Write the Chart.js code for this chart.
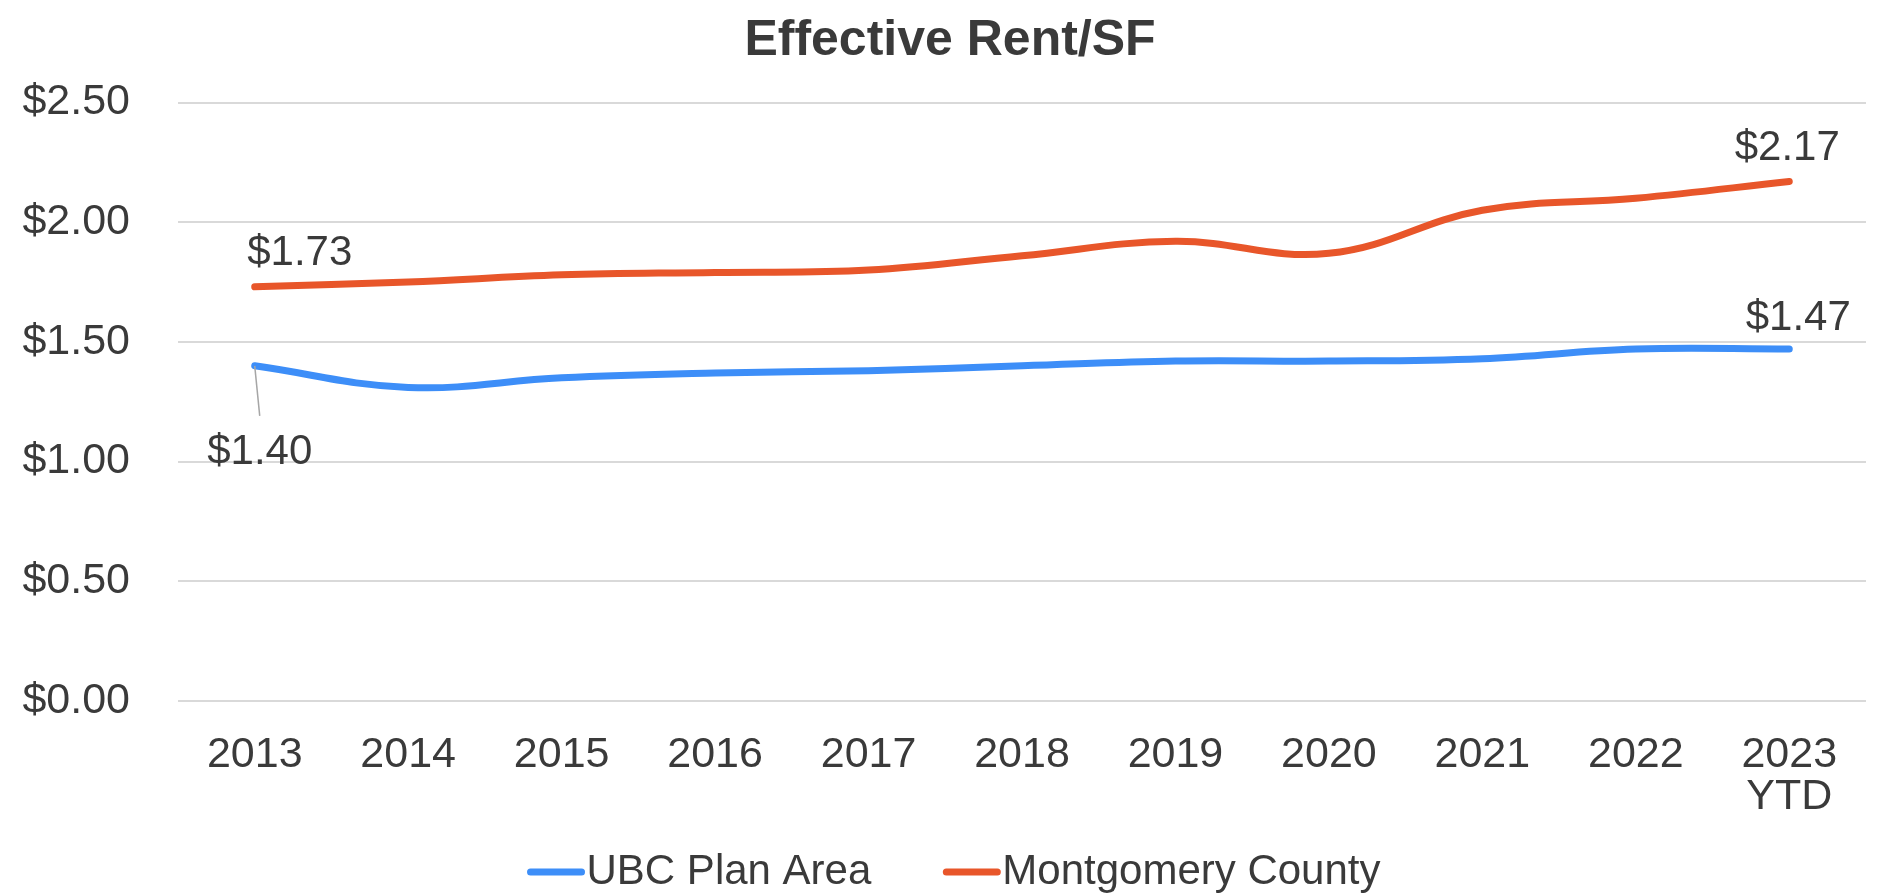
<!DOCTYPE html>
<html>
<head>
<meta charset="utf-8">
<script src="https://cdn.jsdelivr.net/npm/chart.js@4/dist/chart.umd.min.js"></script>
<style>
  html, body { margin: 0; padding: 0; background: #ffffff; }
  #wrap { width: 1890px; height: 896px; }
</style>
</head>
<body>
<div id="wrap"><canvas id="rentChart" width="1890" height="896"></canvas></div>
<script>
// chart data
const chartTitle = 'Effective Rent/SF';
const years = ['2013', '2014', '2015', '2016', '2017', '2018', '2019', '2020', '2021', '2022', ['2023', 'YTD']];
const ubcPlanArea = [1.40, 1.31, 1.35, 1.37, 1.38, 1.40, 1.42, 1.42, 1.43, 1.47, 1.47];
const montgomeryCounty = [1.73, 1.75, 1.78, 1.79, 1.80, 1.86, 1.92, 1.87, 2.05, 2.10, 2.17];
const yTicks = [0, 0.5, 1.0, 1.5, 2.0, 2.5];

const textColor = '#3a3a3a';
const fontFamily = '"Liberation Sans", Arial, sans-serif';

// which points get a value label, and where it sits relative to the point
const labelSpots = [
    { dataset: 0, index: 0, dx: 5, dy: 87, leader: true },
    { dataset: 0, index: 10, dx: 9, dy: -31 },
    { dataset: 1, index: 0, dx: 45, dy: -33 },
    { dataset: 1, index: 10, dx: -2, dy: -33 },
];

const valueLabels = {
    id: 'valueLabels',
    afterDatasetsDraw(chart) {
        const ctx = chart.ctx;
        ctx.save();
        ctx.font = '42px ' + fontFamily;
        ctx.textAlign = 'center';
        ctx.textBaseline = 'middle';
        labelSpots.forEach((s) => {
            const pt = chart.getDatasetMeta(s.dataset).data[s.index];
            const v = chart.data.datasets[s.dataset].data[s.index];
            const tx = pt.x + s.dx;
            const ty = pt.y + s.dy;
            if (s.leader) {
                ctx.strokeStyle = '#a6a6a6';
                ctx.lineWidth = 1.5;
                ctx.beginPath();
                ctx.moveTo(pt.x, pt.y);
                ctx.lineTo(tx, ty - 37);
                ctx.stroke();
            }
            ctx.fillStyle = textColor;
            ctx.fillText('$' + v.toFixed(2), tx, ty);
        });
        ctx.restore();
    },
};

// title and legend drawn by hand (title sits a bit right of the canvas centre,
// legend text sits right against the line sample)
const titleAndLegend = {
    id: 'titleAndLegend',
    afterDraw(chart) {
        const ctx = chart.ctx;
        ctx.save();
        ctx.fillStyle = textColor;
        ctx.textBaseline = 'middle';
        ctx.textAlign = 'center';
        ctx.font = 'bold 50px ' + fontFamily;
        ctx.fillText(chartTitle, 950, 41);

        ctx.textAlign = 'left';
        ctx.font = '42px ' + fontFamily;
        const sample = 57, gap = 72, y = 872;
        const items = chart.data.datasets.map((d) => ({ d, w: ctx.measureText(d.label).width }));
        const total = items.reduce((a, it) => a + sample + 2 + it.w, 0) + gap * (items.length - 1);
        let x = 954 - total / 2;
        items.forEach((it) => {
            ctx.strokeStyle = it.d.borderColor;
            ctx.lineWidth = 7;
            ctx.lineCap = 'round';
            ctx.beginPath();
            ctx.moveTo(x + 3, y);
            ctx.lineTo(x + sample - 3, y);
            ctx.stroke();
            ctx.fillStyle = textColor;
            ctx.fillText(it.d.label, x + sample + 2, y);
            x += sample + 2 + it.w + gap;
        });
        ctx.restore();
    },
};

const ctx = document.getElementById('rentChart').getContext('2d');
const chart = new Chart(ctx, {
    type: 'line',
    data: {
        labels: years,
        datasets: [
            {
                label: 'UBC Plan Area',
                data: ubcPlanArea,
                borderColor: '#3d8ef8',
                backgroundColor: '#3d8ef8',
                borderWidth: 7,
                borderCapStyle: 'round',
                tension: 0.4,
                fill: false,
                pointRadius: 0,
            },
            {
                label: 'Montgomery County',
                data: montgomeryCounty,
                borderColor: '#e8562a',
                backgroundColor: '#e8562a',
                borderWidth: 7,
                borderCapStyle: 'round',
                tension: 0.4,
                fill: false,
                pointRadius: 0,
            },
        ],
    },
    options: {
        responsive: false,
        animation: false,
        layout: { padding: { left: 4, right: 24, top: 102.5, bottom: 52 } },
        plugins: {
            legend: { display: false },
            tooltip: { enabled: false },
            title: { display: false },
        },
        scales: {
            x: {
                offset: true,
                grid: { display: false, drawTicks: false },
                border: { display: false },
                ticks: {
                    color: textColor,
                    padding: 33,
                    maxRotation: 0,
                    autoSkip: false,
                    font: { family: fontFamily, size: 43, lineHeight: 0.98 },
                },
                afterFit(scale) { scale.height = 143; },
            },
            y: {
                min: 0,
                max: 2.5,
                afterBuildTicks(scale) { scale.ticks = yTicks.map((v) => ({ value: v })); },
                grid: { color: '#d9d9d9', lineWidth: 2, drawTicks: false },
                border: { display: false },
                ticks: {
                    color: textColor,
                    padding: 48,
                    font: { family: fontFamily, size: 43 },
                    callback: (v) => '$' + Number(v).toFixed(2),
                },
                afterFit(scale) { scale.width = 174; },
            },
        },
    },
    plugins: [valueLabels, titleAndLegend],
});
</script>
</body>
</html>
